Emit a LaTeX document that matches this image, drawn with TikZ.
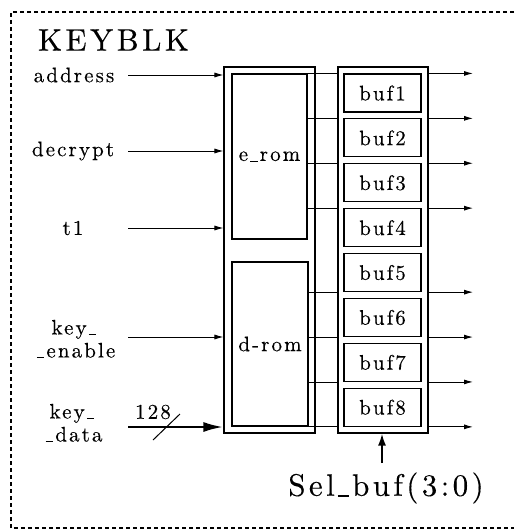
\documentclass[tikz,border=0pt]{standalone}
\usepackage{fontspec}
\setmainfont{lmroman10-regular.otf}[LetterSpace=10,FakeBold=0.3]
\newfontfamily\bigfont{lmroman10-regular.otf}[LetterSpace=11,FakeBold=0.3]
\usetikzlibrary{arrows.meta}
\newcommand{\us}{\kern0.1em\rule[-0.03em]{0.36em}{0.045em}\kern0.1em}
\tikzset{
  box/.style={draw, line width=1.1pt, inner sep=0pt},
  wire/.style={line width=0.9pt},
  inarrow/.style={wire, -{Latex[length=9pt,width=5pt]}},
  busarrow/.style={line width=2.6pt, -{Latex[length=20pt,width=10pt]}},
  lbl/.style={font=\fontsize{21}{23}\selectfont, inner sep=0pt, align=center},
  big/.style={font=\bigfont\fontsize{31}{34}\selectfont, inner sep=0pt},
}
\begin{document}
\begin{tikzpicture}[x=1pt,y=-1pt]
\useasboundingbox (0,0) rectangle (514,532);
% dashed border
\draw[line width=1.3pt, dash pattern=on 4pt off 3pt] (514,12) -- (11,12) -- (11,528) -- (514,528);
\node[big] (title) at (113.5,40) {KEYBLK};
% rom blocks
\node[box, minimum width=91pt, minimum height=366pt] (rombox) at (269.5,250) {};
\node[box, lbl, minimum width=75pt, minimum height=165pt] (erom) at (269.5,156.5) {e\us rom};
\node[box, lbl, minimum width=76pt, minimum height=164pt] (drom) at (270,344) {d-rom};
% buffer block
\node[box, minimum width=90pt, minimum height=366pt] (bufbox) at (383,250) {};
\foreach \i in {1,...,8}{
  \pgfmathsetmacro{\yc}{74+44.9*(\i-1)+19}
  \node[box, lbl, minimum width=77pt, minimum height=38pt] (buf\i) at (382.5,\yc) {buf\i};
}
% internal wires and outputs
\foreach \i in {1,...,4}{
  \draw[wire] (erom.east |- buf\i.north) -- (bufbox.west |- buf\i.north);
  \coordinate (out\i) at (473, 0 |- buf\i.north);
  \draw[inarrow] (bufbox.east |- buf\i.north) -- (out\i);
}
\foreach \i in {5,...,8}{
  \draw[wire] (drom.east |- buf\i.south) -- (bufbox.west |- buf\i.south);
  \coordinate (out\i) at (473, 0 |- buf\i.south);
  \draw[inarrow] (bufbox.east |- buf\i.south) -- (out\i);
}
% inputs
\node[lbl] (address) at (74,75) {address};
\node[lbl] (decrypt) at (73,151) {decrypt};
\node[lbl] (t1) at (73,228) {t1};
\node[lbl] (keyen) at (75,339) {key\us\\\us enable};
\node[lbl] (keydata) at (73,423) {key\us\\\us data};
\coordinate (ia) at (128,75);
\coordinate (id) at (128,151);
\coordinate (it) at (128,228);
\coordinate (ie) at (128,337);
\coordinate (ik) at (128,427);
\draw[inarrow] (ia) -- (ia -| rombox.west);
\draw[inarrow] (id) -- (id -| rombox.west);
\draw[inarrow] (it) -- (it -| rombox.west);
\draw[inarrow] (ie) -- (ie -| rombox.west);
\draw[busarrow] (ik) -- (ik -| rombox.west);
\coordinate (s1) at (153,440);
\coordinate (s2) at (180,414);
\draw[line width=1pt] (s1) -- (s2);
\node[lbl] (w128) at (153,412) {128};
% select
\node[big] (sel) at (386,488) {Sel\us buf(3:0)};
\draw[line width=2pt, -{Latex[length=12pt,width=8pt]}] (382,463) -- (382 ,0 |- bufbox.south);
\end{tikzpicture}
\end{document}
